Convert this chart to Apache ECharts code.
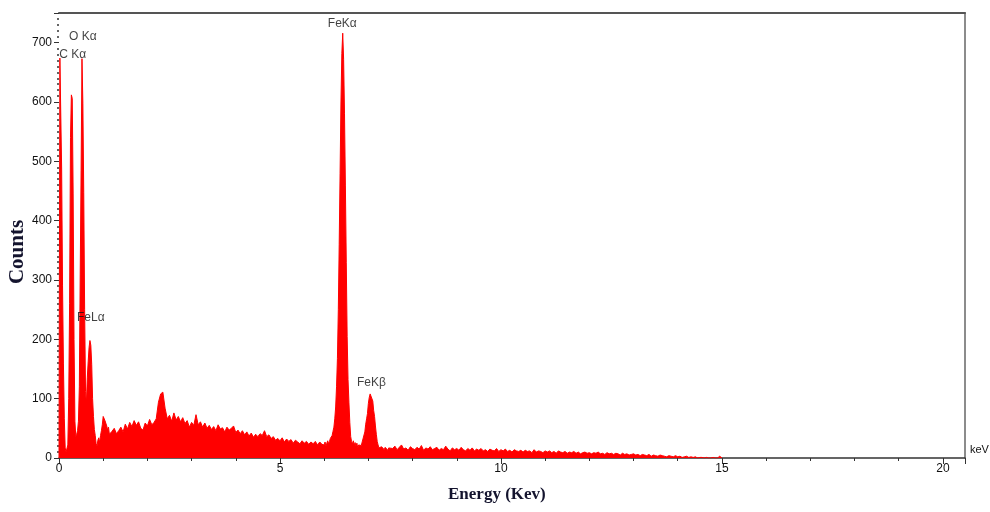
<!DOCTYPE html>
<html>
<head>
<meta charset="utf-8">
<script src="https://cdn.jsdelivr.net/npm/echarts@6/dist/echarts.min.js"></script>
<style>
  html, body { margin: 0; padding: 0; background: #fff; }
  #chart { width: 990px; height: 512px; }
</style>
</head>
<body>
<div id="chart"></div>
<script>
// EDS spectrum counts, stored per energy segment (first channel keV, channel step keV)
const lowStart = 0.00, lowStep = 0.02;
const lowCounts = [
  0, 674, 672, 487, 290, 160, 67, 17, 10, 8,
  22, 100, 260, 540, 612, 606, 445, 200, 62, 36,
  40, 46, 62, 120, 310, 484, 673, 598, 447, 250,
  112, 92, 135, 162, 186, 198, 190, 158, 100, 70,
  48, 38, 24, 20, 30, 34, 26, 38, 46, 56,
  70, 73, 63, 60, 54, 47, 52, 40, 37, 43,
  45
];

const midStart = 1.25, midStep = 0.05;
const midCounts = [
  50, 41, 46, 52, 44, 57, 49, 60, 53, 63,
  55, 61, 50, 47, 59, 54, 65, 56, 60, 66,
  94, 108, 111, 84, 66, 72, 62, 76, 64, 70,
  61, 68, 58, 63, 52, 60, 55, 73, 56, 61,
  52, 59, 50, 55, 48, 53, 46, 56, 49, 51,
  44, 52, 47, 50, 54, 43, 47, 41, 46, 39,
  44, 37, 42, 35, 40, 36, 41, 38, 46, 36,
  39, 33, 36, 30, 33, 29, 34, 27, 32, 28,
  31, 25, 30, 27, 24, 29, 25, 28, 23, 27,
  24, 28, 22, 27, 23
];

const feKStart = 6.00, feKStep = 0.02;
const feKCounts = [
  22, 27, 20, 25, 29, 24, 28, 33, 30, 38,
  45, 52, 66, 86, 120, 168, 250, 360, 480, 600,
  682, 716, 672, 580, 460, 330, 205, 132, 94, 60,
  36, 28, 24, 29, 22, 26, 20, 25, 17, 22,
  19, 24, 21, 27, 25, 30, 44, 57, 66, 75,
  92, 102, 108, 111, 109, 96, 80, 70, 54, 40,
  28, 22, 17, 20, 15, 19, 16, 21, 14, 18,
  15, 19, 13, 17, 14, 18
];

const highStart = 7.55, highStep = 0.05;
const highCounts = [
  16, 20, 14, 18, 22, 15, 17, 13, 19, 16,
  14, 18, 15, 21, 13, 17, 15, 19, 14, 16,
  18, 13, 16, 14, 20, 15, 12, 17, 14, 16,
  13, 18, 14, 12, 16, 13, 17, 12, 15, 13,
  16, 12, 14, 11, 15, 13, 12, 16, 11, 14,
  12, 15, 11, 13, 10, 14, 12, 11, 13, 10,
  13, 11, 12, 9, 14, 10, 12, 11, 9, 12,
  10, 12, 9, 11, 8, 12, 10, 9, 11, 8,
  10, 9, 11, 8, 10, 7, 9, 10, 8, 9,
  7, 9, 8, 10, 7, 8, 6, 9, 7, 8,
  6, 8, 7, 5, 8, 6, 7, 5, 6, 7,
  5, 6, 4, 6, 5, 4, 6, 3, 5, 4,
  3, 5, 4, 3, 2, 4, 3, 2, 4, 2,
  3, 1, 2, 3, 1, 2, 1, 2, 0, 1,
  1, 0, 1, 0, 0, 1, 0, 0, 3, 0
];

// Peak identifications and where their tags sit (keV, counts)
const peakNames = ['C K\u03b1', 'O K\u03b1', 'FeL\u03b1', 'FeK\u03b1', 'FeK\u03b2'];
const peakEnergy = [0.31, 0.54, 0.72, 6.41, 7.07];
const peakTagCounts = [680, 710, 236, 732, 127];

// Axis ranges
const energyMax = 20.5, energyTick = 5;
const countMax = 750, countTick = 100;

function segment(start, step, counts) {
  return counts.map((c, i) => [+(start + i * step).toFixed(3), c]);
}
const spectrum = [].concat(
  segment(lowStart, lowStep, lowCounts),
  segment(midStart, midStep, midCounts),
  segment(feKStart, feKStep, feKCounts),
  segment(highStart, highStep, highCounts)
);
const peakTags = peakNames.map((n, i) => ({ name: n, value: [peakEnergy[i], peakTagCounts[i]] }));

const tickFont = '"Liberation Sans Narrow", "Liberation Sans", Arial, sans-serif';
const titleFont = '"Liberation Serif", "Times New Roman", serif';

const chart = echarts.init(document.getElementById('chart'), null, { renderer: 'canvas' });
chart.setOption({
  backgroundColor: '#ffffff',
  animation: false,
  grid: { left: 59, right: 25, top: 13, bottom: 54, containLabel: false, outerBoundsMode: 'none' },
  xAxis: [
    {
      type: 'value', min: 0, max: energyMax, interval: energyTick,
      name: 'keV', nameLocation: 'end', nameGap: 5,
      nameTextStyle: { fontFamily: tickFont, fontSize: 11, color: '#111', verticalAlign: 'bottom', padding: [0, 0, 3, 0] },
      axisLine: { show: true, onZero: false, lineStyle: { color: '#333', width: 1.5 } },
      axisTick: { show: true, length: 6, lineStyle: { color: '#333', width: 1 } },
      minorTick: { show: true, splitNumber: 5, length: 3, lineStyle: { color: '#333', width: 1 } },
      axisLabel: { fontFamily: tickFont, fontSize: 12, color: '#111', margin: 5, showMaxLabel: false },
      splitLine: { show: false }
    },
    {
      type: 'value', position: 'top', min: 0, max: energyMax,
      axisLine: { show: true, onZero: false, lineStyle: { color: '#555', width: 2 } },
      axisTick: { show: false }, axisLabel: { show: false }, splitLine: { show: false }
    }
  ],
  yAxis: [
    {
      type: 'value', min: 0, max: countMax, interval: countTick,
      axisLine: { show: false, onZero: false },
      axisTick: { show: true, length: 5, lineStyle: { color: '#333', width: 1 } },
      minorTick: { show: true, splitNumber: 10, length: 2, lineStyle: { color: '#333', width: 1.5 } },
      axisLabel: { fontFamily: tickFont, fontSize: 12, color: '#111', margin: 7, showMaxLabel: false },
      splitLine: { show: false }
    },
    {
      type: 'value', position: 'right', min: 0, max: countMax,
      axisLine: { show: true, onZero: false, lineStyle: { color: '#666', width: 1.5 } },
      axisTick: { show: false }, axisLabel: { show: false }, splitLine: { show: false }
    }
  ],
  series: [
    {
      type: 'line',
      data: spectrum,
      showSymbol: false,
      sampling: 'none',
      lineStyle: { color: '#ff0000', width: 1 },
      areaStyle: { color: '#ff0000', opacity: 1 },
      z: 2
    },
    {
      type: 'scatter',
      data: peakTags,
      symbolSize: 1,
      itemStyle: { color: 'rgba(0,0,0,0)' },
      label: {
        show: true, position: 'inside', formatter: p => p.name,
        fontFamily: tickFont, fontSize: 12, color: '#111'
      },
      z: 5
    }
  ],
  graphic: [
    {
      type: 'text', left: 448, top: 486,
      style: { text: 'Energy (Kev)', font: 'bold 17px ' + titleFont, fill: '#14142e' }
    },
    {
      type: 'text', x: 18, y: 252, rotation: Math.PI / 2,
      style: { text: 'Counts', font: 'bold 21px ' + titleFont, fill: '#14142e', align: 'center', verticalAlign: 'middle' }
    }
  ]
});
</script>
</body>
</html>
